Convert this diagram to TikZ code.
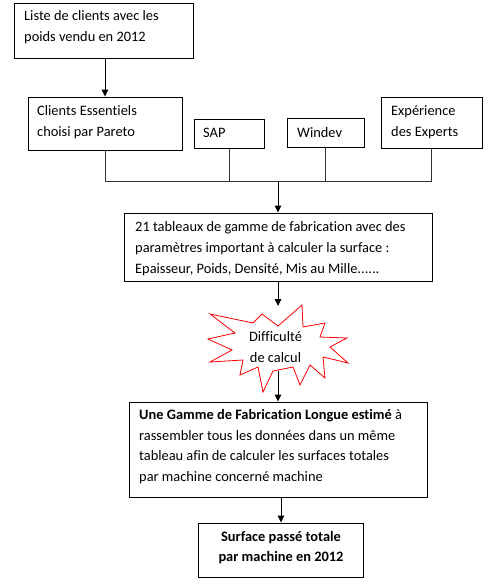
\documentclass[tikz,border=0pt]{standalone}
\usepackage{fontspec}
\setmainfont{Carlito}[Ligatures=NoCommon]
\usetikzlibrary{arrows.meta}
\begin{document}
\begin{tikzpicture}[x=1pt,y=-1pt,
  box/.style={draw=black,line width=0.9pt,rectangle,inner sep=0pt},
  txt/.style={inner sep=0pt,anchor=west,align=left,font=\fontsize{14.4}{20.7}\selectfont},
  ctxt/.style={inner sep=0pt,align=center,font=\fontsize{14.4}{20.7}\selectfont},
  arr/.style={draw=black,line width=0.9pt,-{Triangle[length=7pt,width=6.5pt]}},
  ln/.style={draw=black!80,line width=0.9pt}]
\useasboundingbox (0,0) rectangle (501,586);
% boxes
\node[box,minimum width=179pt,minimum height=55pt] (b1) at (103.5,30.5) {};
\node[box,minimum width=154pt,minimum height=53pt] (b2) at (105,123.5) {};
\node[box,minimum width=70pt,minimum height=29pt] (sap) at (229,133.5) {};
\node[box,minimum width=77pt,minimum height=29pt] (win) at (325.5,132.5) {};
\node[box,minimum width=101pt,minimum height=51pt] (exp) at (431.5,122.5) {};
\node[box,minimum width=308pt,minimum height=68pt] (b3) at (278,247) {};
\node[box,minimum width=298pt,minimum height=95pt] (b4) at (278,449.5) {};
\node[box,minimum width=165pt,minimum height=54pt] (b5) at (281,550) {};
% texts
\node[txt] (t1) at (24,27.5) {Liste de clients avec les\\poids vendu en 2012};
\node[txt] (t2) at (37,122) {Clients Essentiels\\choisi par Pareto};
\node[txt] (tsap) at (203,133) {SAP};
\node[txt] (twin) at (297,133) {Windev};
\node[txt] (texp) at (391,122) {Expérience\\des Experts};
\node[txt] (t3) at (135,248.5) {21 tableaux de gamme de fabrication avec des\\paramètres important à calculer la surface :\\Epaisseur, Poids, Densité, Mis au Mille......};
\node[txt] (t4) at (139,446.5) {\textbf{Une Gamme de Fabrication Longue estimé} à\\rassembler tous les données dans un même\\tableau afin de calculer les surfaces totales\\par machine concerné machine};
\node[ctxt,font=\fontsize{14.4}{20.7}\selectfont\bfseries] (t5) at (281,547.5) {Surface passé totale\\ par machine en 2012};
% star
\draw[red,line width=0.8pt,fill=white] (210,314) -- (253,323) -- (262,314) -- (278,326) -- (302,305) -- (303,327) -- (325,323) -- (320,337) -- (347,338) -- (330,347) -- (348,363) -- (323,357) -- (325,378) -- (310,365) -- (300,385) -- (293,367) -- (273,371) -- (263,392) -- (258,367) -- (240,375) -- (243,360) -- (210,362) -- (232,350) -- (208,339) -- (235,333) -- cycle;
\node[ctxt] (tstar) at (275.5,347) {Difficulté\\de calcul};
\coordinate (sttop) at (278,306);
\coordinate (stbot) at (278,371);
% connectors
\draw[arr] (b1.south -| b2.north) -- (b2.north);
\coordinate (bus) at (278,181);
\draw[ln] (b2.south) -- (b2.south |- bus) -- (exp.south |- bus) -- (exp.south);
\draw[ln] (sap.south) -- (sap.south |- bus);
\draw[ln] (win.south) -- (win.south |- bus);
\draw[arr] (bus) -- (b3.north);
\draw[arr] (b3.south) -- (sttop);
\draw[arr] (stbot) -- (b4.north);
\draw[arr] (b5.north |- b4.south) -- (b5.north);
\end{tikzpicture}
\end{document}
